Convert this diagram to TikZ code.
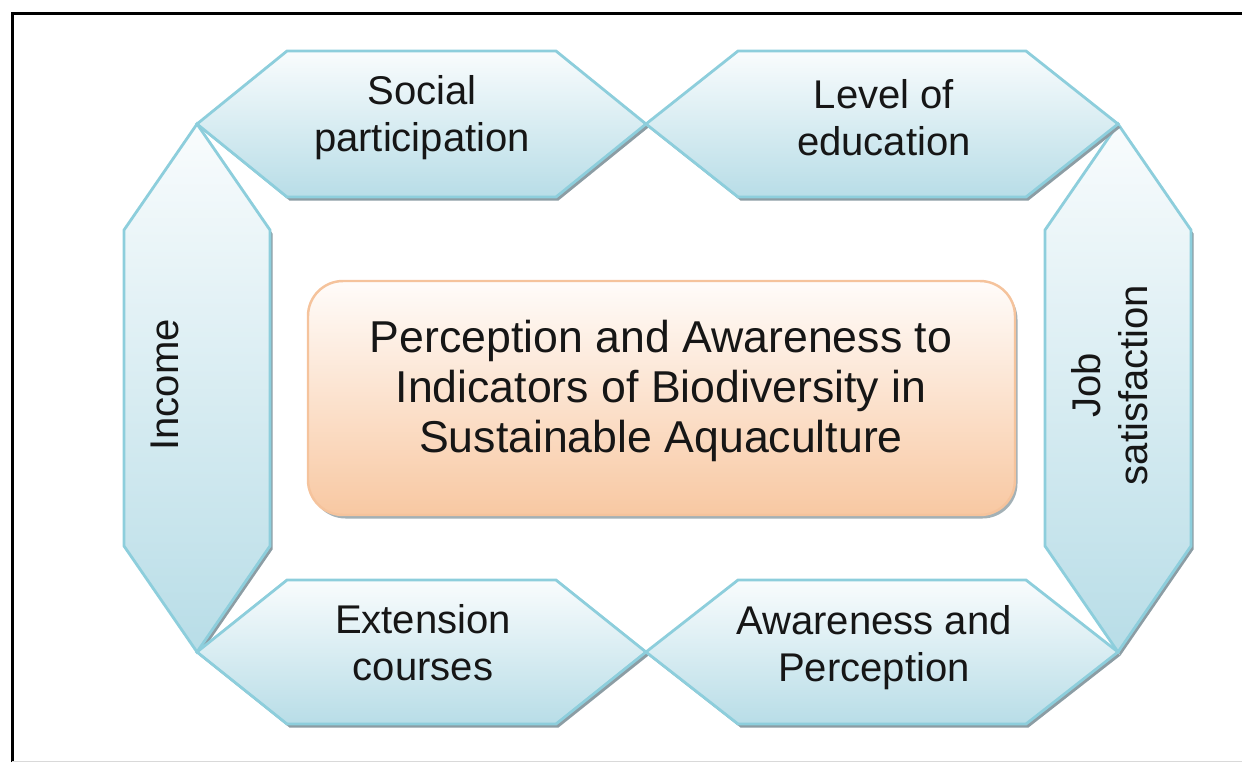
\documentclass[tikz,border=0pt]{standalone}
\usepackage{fontspec}
\setmainfont{Liberation Sans}
\usepackage{tikz}
\usepackage{xcolor}
\usetikzlibrary{shadows}
\definecolor{rimblue}{HTML}{8DCEDC}
\definecolor{topblue}{HTML}{F9FCFD}
\definecolor{lowblue}{HTML}{B8DDE7}
\definecolor{rimpeach}{HTML}{F5C39C}
\definecolor{toppeach}{HTML}{FFFCFA}
\definecolor{lowpeach}{HTML}{F8C8A2}
\definecolor{shadegray}{HTML}{8C9DA4}
\definecolor{ink}{HTML}{161616}
\tikzset{
  hexbox/.style={draw=rimblue,line width=1.6pt,line join=miter,
                 top color=topblue,bottom color=lowblue,
                 drop shadow={shadow xshift=0.05cm,shadow yshift=-0.07cm,
                              fill=shadegray,opacity=1}},
  corebox/.style={draw=rimpeach,line width=1.4pt,rounded corners=0.7cm,
                  top color=toppeach,bottom color=lowpeach,
                  drop shadow={shadow xshift=0.05cm,shadow yshift=-0.07cm,
                               fill=shadegray,opacity=0.8}},
  hexlabel/.style={align=center,text=ink,inner sep=0pt,
                   font=\fontsize{22.8}{26.7}\selectfont},
  corelabel/.style={align=center,text=ink,inner sep=0pt,
                    font=\fontsize{25.4}{28.5}\selectfont}
}

\begin{document}
\begin{tikzpicture}[x=0.02cm,y=-0.02cm]
  \useasboundingbox (0,0) rectangle (1242,762);
  % frame (only left and top survive, bottom is a faint rule)
  \draw[line width=0.06cm] (12.5,762) -- (12.5,13.5) -- (1242,13.5);
  \draw[black!15,line width=0.02cm] (12,761) -- (1242,761);

  % side hexagons
  \path[hexbox] (197,124) -- (270,230) -- (270,546) -- (197,652)
    -- (124,546) -- (124,230) -- cycle;
  \path[hexbox] (1118,124) -- (1191,230) -- (1191,546) -- (1118,652)
    -- (1045,546) -- (1045,230) -- cycle;

  % top row
  \path[hexbox] (197,124) -- (287,51) -- (556,51) -- (646,124)
    -- (556,197) -- (287,197) -- cycle;
  \path[hexbox] (646,124) -- (738,51) -- (1026,51) -- (1118,124)
    -- (1026,197) -- (738,197) -- cycle;

  % bottom row
  \path[hexbox] (197,652) -- (287,580) -- (556,580) -- (646,652)
    -- (556,724) -- (287,724) -- cycle;
  \path[hexbox] (646,652) -- (738,580) -- (1026,580) -- (1118,652)
    -- (1026,724) -- (738,724) -- cycle;

  % centre
  \path[corebox] (308,281) rectangle (1015,515);

  \node[hexlabel] (social) at (422,118) {Social\\participation};
  \node[hexlabel] (educ) at (884,118) {Level of\\education};
  \node[hexlabel,rotate=90] (income) at (165,385) {Income};
  \node[hexlabel,rotate=90] (job) at (1110,385) {Job\\satisfaction};
  \node[hexlabel] (ext) at (423,643) {Extension\\courses};
  \node[hexlabel] (aware) at (874,648) {Awareness and\\Perception};
  \node[corelabel] (core) at (661,391)
    {Perception and Awareness to\\Indicators of Biodiversity in\\Sustainable Aquaculture};
\end{tikzpicture}
\end{document}
